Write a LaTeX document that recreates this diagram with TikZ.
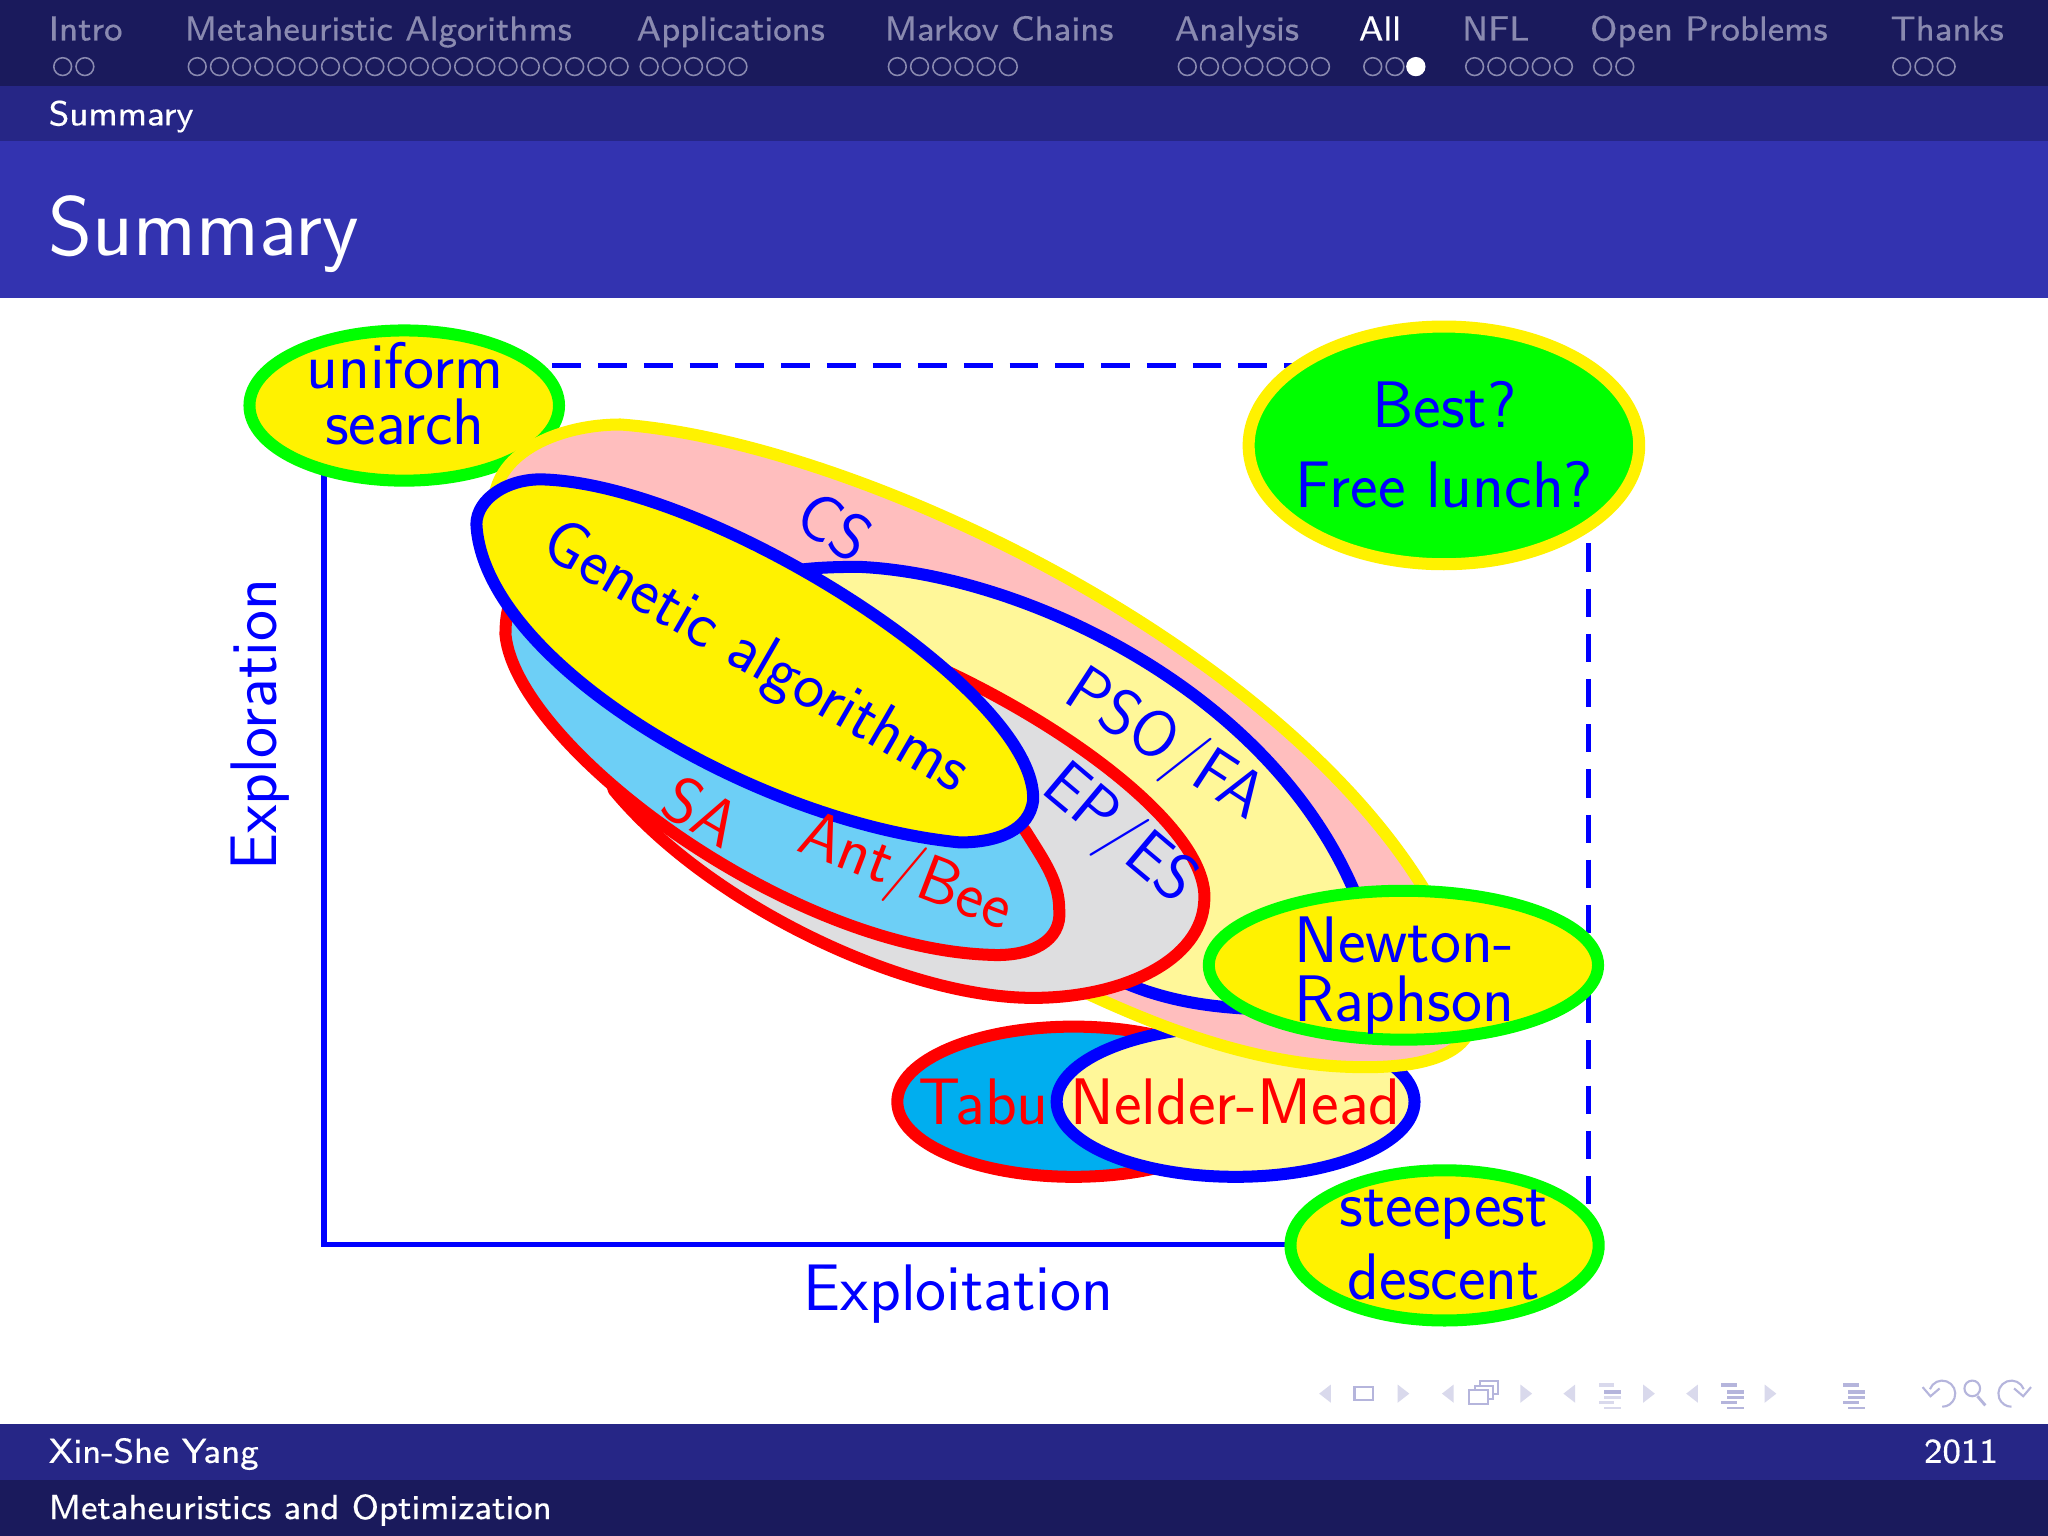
\documentclass[tikz,border=0pt]{standalone}
\usepackage{fontspec}
\usetikzlibrary{shapes.geometric}
\newfontfamily\navfam[FakeBold=0.35]{lmsans8-regular.otf}
\definecolor{bdark}{HTML}{1A1A5C}
\definecolor{bmid}{HTML}{262686}
\definecolor{btitle}{HTML}{3333B0}
\definecolor{navdim}{HTML}{8A8AB0}
\definecolor{pinkf}{HTML}{FFBEBE}
\definecolor{yel}{HTML}{FFF200}
\definecolor{paley}{HTML}{FFF799}
\definecolor{grayf}{HTML}{DEDEE0}
\definecolor{antb}{HTML}{6DCFF6}
\definecolor{tabub}{HTML}{00AEEF}
\definecolor{grn}{HTML}{00FF00}
\definecolor{navlo}{HTML}{D9D9EC}
\definecolor{navhi}{HTML}{B5B5DC}
\newcommand{\fz}[2]{\fontsize{#1pt}{#2pt}\selectfont\sffamily}
\newcommand{\fn}{\fontsize{13.3pt}{15pt}\selectfont\navfam}
\tikzset{
  navtxt/.style={anchor=base west,text=navdim,inner sep=0,font=\fn},
  whtxt/.style={anchor=base west,text=white,inner sep=0,font=\fn},
  navdot/.style={draw=navdim,line width=0.6pt},
  blob/.style={line width=4.6pt,line join=round},
  oval/.style={ellipse,inner sep=0,outer sep=0,line width=4.6pt},
  lab/.style={inner sep=0,align=center,text=blue,font=\fz{25.2}{22}},
  redlab/.style={inner sep=0,align=center,text=red,font=\fz{25.2}{22}},
  axis/.style={draw=blue,line width=2pt},
  dashaxis/.style={draw=blue,line width=2pt,dash pattern=on 11pt off 6.5pt},
  dashaxisv/.style={draw=blue,line width=2pt,dash pattern=on 10.8pt off 6.5pt,dash phase=1.2pt},
  navlight/.style={fill=navlo,draw=none},
  navstroke/.style={draw=navhi,line width=0.8pt,fill=none},
}
\begin{document}
\begin{tikzpicture}[x=0.5pt,y=-0.5pt]
\useasboundingbox (0,0) rectangle (1568,1176);
% bands
\fill[white] (0,0) rectangle (1568,1176);
\fill[bdark] (0,0) rectangle (1568,66);
\fill[bmid] (0,66) rectangle (1568,108);
\fill[btitle] (0,108) rectangle (1568,228);
\fill[bmid] (0,1090) rectangle (1568,1133);
\fill[bdark] (0,1133) rectangle (1568,1176);
% navigation
\node[navtxt] (n1) at (37,31) {Intro};
\node[navtxt] (n2) at (141,31) {Metaheuristic Algorithms};
\node[navtxt] (n3) at (487,31) {Applications};
\node[navtxt] (n4) at (677,31) {Markov Chains};
\node[navtxt] (n5) at (899,31) {Analysis};
\node[whtxt] (n6) at (1040,31) {All};
\node[navtxt] (n7) at (1119,31) {NFL};
\node[navtxt] (n8) at (1217,31) {Open Problems};
\node[navtxt] (n9) at (1447,31) {Thanks};
\foreach \x in {48,65,
  151,168,185,202,219,236,253,270,287,304,321,338,355,372,389,406,423,440,457,474,
  497,514,531,548,565,
  687,704,721,738,755,772,
  909,926,943,960,977,994,1011,
  1051,1068,
  1129,1146,1163,1180,1197,
  1227,1244,
  1456,1473,1490}
  \draw[navdot] (\x,51) circle [radius=3.4pt];
\fill[white] (1084,51) circle [radius=3.7pt];
\node[whtxt] (sec) at (37,96) {Summary};
\node[anchor=base west,text=white,inner sep=0,font=\fz{32.3}{30}] (title) at (37,196) {Summary};
% footer
\node[whtxt] (auth) at (37,1120) {Xin-She Yang};
\node[anchor=base east,text=white,inner sep=0,font=\fn] (year) at (1530,1120) {2011};
\node[whtxt] (ttl) at (37,1163) {Metaheuristics and Optimization};
% nav symbols
\foreach \a/\b in {1014/1074,1108/1168,1201/1262,1295/1355}{
  \fill[navlight] (\a+5,1060) -- (\a+5,1074) -- (\a-4,1067) -- cycle;
  \fill[navlight] (\b-4,1060) -- (\b-4,1074) -- (\b+5,1067) -- cycle;
}
\draw[navstroke] (1037,1062) rectangle (1051,1072);
\draw[navstroke] (1125,1064) rectangle (1139,1075);
\draw[navstroke] (1129,1064) -- (1129,1061) -- (1143,1061) -- (1143,1071) -- (1139,1071);
\draw[navstroke] (1133,1061) -- (1133,1057) -- (1147,1057) -- (1147,1067) -- (1143,1067);
\foreach \x/\c in {1232/navlo,1326/navhi,1419/navhi}{
  \fill[\c] (\x-8,1059) rectangle (\x+4,1062);
  \fill[navhi] (\x-4,1064) rectangle (\x+9,1067);
  \fill[\c] (\x-4,1069) rectangle (\x+9,1071);
  \fill[\c] (\x-8,1073) rectangle (\x+4,1075);
  \fill[\c] (\x-4,1077) rectangle (\x+9,1079);
}
\draw[navstroke] (1477.6,1063.6) arc [start angle=160,end angle=-90,radius=5pt];
\draw[navstroke] (1472,1062) -- (1478,1069) -- (1485,1063);
\draw[navstroke] (1510,1063) circle [radius=3pt];
\draw[navhi,line width=1.1pt] (1514,1069) -- (1520,1076);
\draw[navstroke] (1549.4,1063.6) arc [start angle=20,end angle=270,radius=5pt];
\draw[navstroke] (1555,1062) -- (1549,1069) -- (1542,1063);
% axes
\coordinate (origin) at (248,953);
\coordinate (topl) at (248,280);
\coordinate (topr) at (1216,280);
\coordinate (botr) at (1216,953);
\draw[axis] (topl) -- (origin) -- (botr);
\draw[dashaxis] (topl) -- (topr);
\draw[dashaxisv] (topr) -- (botr);
% lower pair
\node[oval,draw=red,fill=tabub,minimum width=135pt,minimum height=57.5pt] (tabuE) at (822,843.5) {};
\node[oval,draw=blue,fill=paley,minimum width=137pt,minimum height=57.5pt] (nelderE) at (946,843.5) {};
% under the big blob
\node[oval,draw=grn,fill=yel,minimum width=118.5pt,minimum height=57.5pt] (uniE) at (309.5,310.5) {};
% blobs
\draw[blob,draw=yel,fill=pinkf] (475,325) .. controls (680,340) and (1075,540) .. (1128,770)
  .. controls (1132,805) and (1095,818) .. (1040,817)
  .. controls (960,816) and (880,785) .. (800,745)
  .. controls (600,650) and (370,500) .. (378,385)
  .. controls (380,345) and (430,325) .. cycle;
\draw[blob,draw=blue,fill=paley] (658,434) .. controls (790,440) and (1000,540) .. (1050,720)
  .. controls (1065,765) and (1010,775) .. (950,772)
  .. controls (920,770) and (890,765) .. (860,752)
  .. controls (700,680) and (560,560) .. (560,480)
  .. controls (560,440) and (600,434) .. cycle;
\draw[blob,draw=red,fill=grayf] (600,470) .. controls (740,500) and (928,620) .. (922,690)
  .. controls (920,735) and (860,764) .. (791,764)
  .. controls (690,764) and (540,690) .. (470,605)
  .. controls (460,580) and (500,470) .. cycle;
\draw[blob,draw=red,fill=antb] (387,486) .. controls (395,570) and (600,725) .. (757,731)
  .. controls (790,733) and (813,720) .. (811,697)
  .. controls (811,675) and (800,660) .. (785,636)
  .. controls (700,540) and (520,450) .. (420,430)
  .. controls (395,440) and (387,460) .. cycle;
\draw[blob,draw=blue,fill=yel] (414,367) .. controls (545,370) and (795,530) .. (791,613)
  .. controls (788,635) and (765,645) .. (735,645)
  .. controls (580,630) and (375,510) .. (365,405)
  .. controls (362,385) and (385,367) .. cycle;
% ovals
\node[oval,draw=yel,fill=grn,minimum width=149.5pt,minimum height=91pt] (bestE) at (1105.5,341) {};
\node[oval,draw=grn,fill=yel,minimum width=149pt,minimum height=57pt] (newtE) at (1074.5,739) {};
\node[oval,draw=grn,fill=yel,minimum width=118pt,minimum height=57.5pt] (steepE) at (1106,953.5) {};
% labels
\node[lab,font=\fz{25.2}{21.5}] (uni) at (310,301.5) {uniform\\search};
\node[lab,font=\fz{25.2}{30.5}] (best) at (1106,340.5) {Best?\\Free lunch?};
\node[lab,font=\fz{25.2}{22.5}] (newt) at (1075,747) {Newton-\\Raphson};
\node[lab,font=\fz{25.2}{28}] (steep) at (1105.5,953.5) {steepest\\descent};
\node[lab] (expl) at (734,991) {Exploitation};
\node[lab,rotate=90] (explr) at (199,555) {Exploration};
\node[lab,rotate=-33] (cs) at (639,403) {CS};
\node[lab,rotate=-30] (ga) at (578,505) {Genetic algorithms};
\node[lab,rotate=-33] (pso) at (891,572) {PSO/FA};
\node[lab,rotate=-40] (ep) at (856,640) {EP/ES};
\node[redlab,rotate=-21] (ant) at (693,670) {Ant/Bee};
\node[redlab,rotate=-30] (sa) at (537,621) {SA};
\node[redlab] (tabu) at (753,844) {Tabu};
\node[redlab] (nelder) at (946,844) {Nelder-Mead};
\end{tikzpicture}
\end{document}
